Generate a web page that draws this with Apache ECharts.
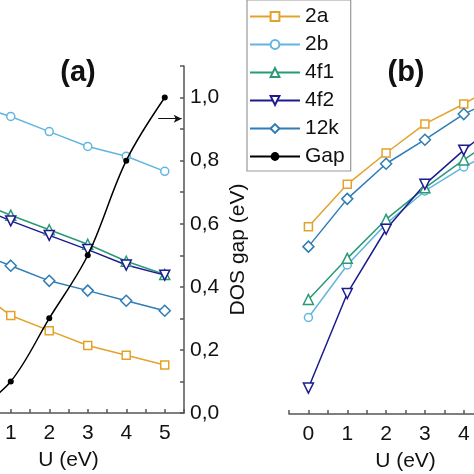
<!DOCTYPE html>
<html>
<head>
<meta charset="utf-8">
<script src="https://cdn.jsdelivr.net/npm/echarts@6/dist/echarts.min.js"></script>
<style>html,body{margin:0;padding:0;background:#fff;}#c{width:474px;height:474px;}</style>
</head>
<body>
<div id="c"></div>
<script>
// U values (eV)
const U = [0, 1, 2, 3, 4, 5];
// Panel (a): site quantities (left axis, off-picture) and DOS gap (right axis)
const a2a  = [0.40, 0.309, 0.261, 0.214, 0.183, 0.152];
const a2b  = [0.978, 0.940, 0.892, 0.845, 0.814, 0.766];
const a4f1 = [0.676, 0.627, 0.581, 0.535, 0.481, 0.439];
const a4f2 = [0.662, 0.609, 0.563, 0.518, 0.469, 0.437];
const a12k = [0.515, 0.467, 0.419, 0.388, 0.356, 0.324];
const gap  = [0.0, 0.1, 0.3, 0.5, 0.8, 1.0];
// Panel (b)
const b2a  = [0.592, 0.726, 0.825, 0.917, 0.980, 1.049];
const b2b  = [0.305, 0.471, 0.601, 0.705, 0.781, 0.845];
const b4f1 = [0.362, 0.492, 0.615, 0.715, 0.803, 0.887];
const b4f2 = [0.082, 0.381, 0.584, 0.726, 0.834, 0.930];
const b12k = [0.529, 0.680, 0.791, 0.867, 0.948, 1.006];
const names = ['2a', '2b', '4f1', '4f2', '12k', 'Gap'];
const xTicks = [0, 1, 2, 3, 4, 5];
const yTickLabels = ['0,0', '0,2', '0,4', '0,6', '0,8', '1,0'];

const FONT = '"Liberation Sans", Arial, sans-serif';
const colors = {'2a': '#E3A32B', '2b': '#63B5E0', '4f1': '#2A9A76', '4f2': '#1C1C8E', '12k': '#2F7DB4', 'Gap': '#000000'};
const symbols = {'2a': ['rect', 8, 0], '2b': ['circle', 8, 0], '4f1': ['triangle', 10, 0], '4f2': ['triangle', 10, 180], '12k': ['diamond', 11, 0]};

function pts(arr) { return U.map((u, i) => [u, arr[i]]); }
function siteSeries(name, arr, xi, yi) {
  const s = symbols[name];
  return {
    name: name, type: 'line', xAxisIndex: xi, yAxisIndex: yi, data: pts(arr),
    symbol: s[0], symbolSize: s[1], symbolRotate: s[2], showSymbol: true,
    lineStyle: {color: colors[name], width: 1.5},
    itemStyle: {color: '#fff', borderColor: colors[name], borderWidth: 1.5},
    emphasis: {disabled: true}, animation: false, z: 3
  };
}

const axisLineStyle = {color: '#555', width: 1.5};
function xAxis(gi) {
  return {
    gridIndex: gi, type: 'value', min: -0.5, max: 5.5, interval: 0.5,
    axisLine: {show: true, onZero: false, lineStyle: axisLineStyle},
    axisTick: {show: true, inside: true, length: 4, lineStyle: axisLineStyle},
    axisLabel: {fontSize: 21, color: '#111', fontFamily: FONT, margin: 10,
      formatter: v => (xTicks.indexOf(v) >= 0 ? String(v) : '')},
    splitLine: {show: false},
    name: 'U (eV)', nameLocation: 'middle', nameGap: 37,
    nameTextStyle: {fontSize: 21, color: '#111', fontFamily: FONT}
  };
}

const option = {
  backgroundColor: '#fff',
  animation: false,
  grid: [
    {left: -47, width: 231, top: 66, height: 347, outerBoundsMode: 'none', containLabel: false},
    {left: 289, width: 233, top: 66, height: 348, outerBoundsMode: 'none', containLabel: false}
  ],
  xAxis: [xAxis(0), xAxis(1)],
  yAxis: [
    {gridIndex: 0, type: 'value', min: 0, max: 1.1, show: false},
    {gridIndex: 0, type: 'value', position: 'right', min: 0, max: 1.1, interval: 0.1,
      axisLine: {show: true, lineStyle: axisLineStyle},
      axisTick: {show: true, inside: true, length: 4, lineStyle: axisLineStyle},
      axisLabel: {fontSize: 21, color: '#111', fontFamily: FONT, margin: 6,
        formatter: v => { const k = Math.round(v * 10); return k % 2 === 0 ? yTickLabels[k / 2] : ''; }},
      splitLine: {show: false},
      name: 'DOS gap (eV)', nameLocation: 'middle', nameRotate: 90, nameGap: 44,
      nameTextStyle: {fontSize: 21, color: '#111', fontFamily: FONT, padding: [0, 20, 0, 0]}},
    {gridIndex: 1, type: 'value', min: 0, max: 1.1, show: false}
  ],
  legend: {
    data: names, orient: 'vertical', left: 247, top: 0,
    padding: [6, 6, 4, 2], itemGap: 7, itemWidth: 50, itemHeight: 11,
    borderColor: '#999', borderWidth: 1.2, backgroundColor: '#fff',
    textStyle: {fontSize: 21, color: '#111', fontFamily: FONT, lineHeight: 21},
    selectedMode: false
  },
  graphic: [
    {type: 'text', x: 78, y: 73, style: {text: '(a)', font: 'bold 29px ' + FONT, fill: '#111', textAlign: 'center', textVerticalAlign: 'middle'}},
    {type: 'text', x: 406, y: 73, style: {text: '(b)', font: 'bold 29px ' + FONT, fill: '#111', textAlign: 'center', textVerticalAlign: 'middle'}}
  ],
  series: [
    siteSeries('2a', a2a, 0, 0),
    siteSeries('2b', a2b, 0, 0),
    siteSeries('4f1', a4f1, 0, 0),
    siteSeries('4f2', a4f2, 0, 0),
    siteSeries('12k', a12k, 0, 0),
    siteSeries('2a', b2a, 1, 2),
    siteSeries('2b', b2b, 1, 2),
    siteSeries('4f1', b4f1, 1, 2),
    siteSeries('4f2', b4f2, 1, 2),
    siteSeries('12k', b12k, 1, 2),
    {
      name: 'Gap', type: 'line', xAxisIndex: 0, yAxisIndex: 1, data: pts(gap),
      smooth: 0.35, symbol: 'circle', symbolSize: 6,
      lineStyle: {color: '#000', width: 1.5}, itemStyle: {color: '#000'},
      emphasis: {disabled: true}, z: 4,
      markLine: {
        silent: true, symbol: ['none', 'arrow'], symbolSize: [6, 8],
        label: {show: false}, lineStyle: {color: '#111', width: 1, type: 'solid'},
        data: [[{coord: [4.83, 0.933]}, {coord: [5.44, 0.933]}]]
      }
    }
  ]
};

const chart = echarts.init(document.getElementById('c'), null, {renderer: 'canvas'});
chart.setOption(option);
</script>
</body>
</html>
